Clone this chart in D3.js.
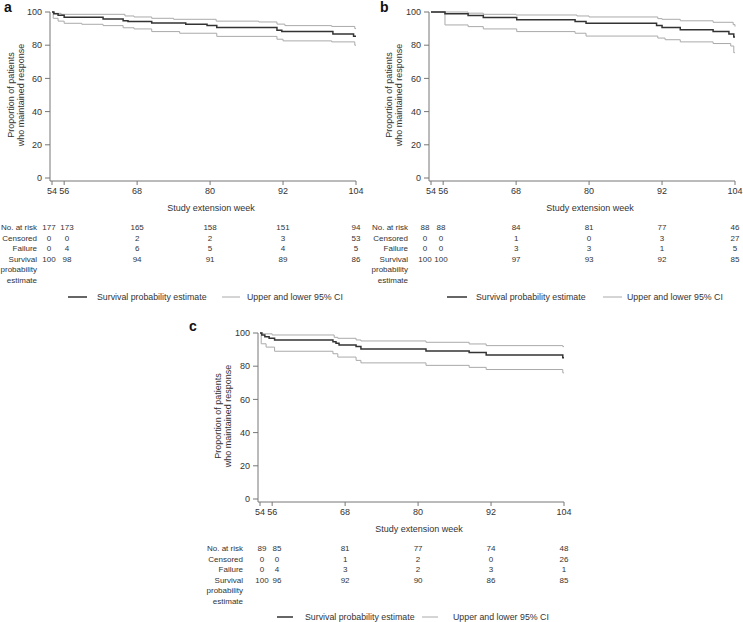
<!DOCTYPE html>
<html><head><meta charset="utf-8">
<script src="https://cdn.jsdelivr.net/npm/d3@7"></script>
<style>
html,body{margin:0;padding:0;background:#fff;}
text{font-family:"Liberation Sans",Arial,Helvetica,sans-serif;fill:#333;}
</style></head>
<body>
<svg id="chart" width="743" height="622"></svg>
<script>
// ---------- data ----------
const tableWeeks = [54, 56, 68, 80, 92, 104];
const xTickLabels = ["54", "56", "68", "80", "92", "104"];
const yTicks = [0, 20, 40, 60, 80, 100];
const rowLabels = ["No. at risk", "Censored", "Failure", "Survival", "probability", "estimate"];
const legendLabels = ["Survival probability estimate", "Upper and lower 95% CI"];
const panelLetters = ["a", "b", "c"];

// Panel a: step curves [week, %]
const aSurv = [[54,100],[54.3,99],[55,98],[56,96.8],[62.4,95.8],[65.7,94.8],[66.5,94.3],[70.4,93.3],[76,92.6],[79.5,91.8],[81.1,90.6],[91,89],[91.8,88.2],[100.2,86.8],[103.6,85.4],[104,85.4]];
const aUpper = [[54,100],[54.4,99.2],[55.5,98.6],[66,97.6],[67.5,97],[70.4,96.2],[74,95.6],[81,94.5],[88,94],[91,92.7],[92.3,91.8],[100,91.3],[103.8,90],[104,90]];
const aLower = [[54,100],[54.2,96.2],[55,94.5],[56,93.2],[58.9,92.6],[62.4,91.8],[65.7,90.5],[67.5,89.8],[70.4,88.2],[75,87.2],[81.1,85.3],[91,83.6],[92,82.6],[100,82],[103.8,80],[104,80]];
const aRisk = [177, 173, 165, 158, 151, 94];
const aCensored = [0, 0, 2, 2, 3, 53];
const aFailure = [0, 4, 6, 5, 4, 5];
const aEstimate = [100, 98, 94, 91, 89, 86];

// Panel b
const bSurv = [[54,100],[56.3,98.9],[60.1,97.9],[62.6,96.7],[68.1,95.3],[77.7,94.3],[79.5,93.2],[91.1,91.9],[92,90.7],[95,89.3],[100.4,88.2],[103,86.7],[103.8,85],[104,85]];
const bUpper = [[54,100],[60.1,99.3],[62.6,98.6],[68,98.2],[78,97.6],[80,97],[91.3,96],[92,95.6],[95,94.7],[100.4,93.8],[103.7,92.4],[104,91.2]];
const bLower = [[54,100],[56.3,92.2],[60.1,91.2],[62.6,89.8],[68.1,88.2],[77.7,87.2],[79.5,85.5],[91.3,84.3],[92.5,83.3],[95,82],[100.4,81],[103.3,79.5],[103.8,75.5],[104,75.5]];
const bRisk = [88, 88, 84, 81, 77, 46];
const bCensored = [0, 0, 1, 0, 3, 27];
const bFailure = [0, 0, 3, 3, 1, 5];
const bEstimate = [100, 100, 97, 93, 92, 85];

// Panel c
const cSurv = [[54,100],[54.3,98.8],[54.8,97.8],[55.5,96.8],[56.4,95.8],[66,94.8],[66.5,93.8],[67,92.8],[69.8,91.8],[70.6,90.4],[81.3,89.2],[88.4,88.3],[91.2,86.7],[103.8,85.1],[104,85.1]];
const cUpper = [[54,100],[54.5,99.5],[56,98.8],[66.2,97.4],[66.8,96.8],[69.8,95.8],[70.6,95.2],[81.3,94.4],[88.4,93.4],[91.2,92.4],[103.8,91.8],[104,91.8]];
const cLower = [[54,100],[54.2,93.5],[55,91.5],[56.4,89],[66,87.5],[66.8,85.5],[69.8,83.5],[70.6,82],[81.3,80.5],[88.4,79.3],[91.2,78],[103.8,76],[104,76]];
const cRisk = [89, 85, 81, 77, 74, 48];
const cCensored = [0, 0, 1, 2, 0, 26];
const cFailure = [0, 4, 3, 2, 3, 1];
const cEstimate = [100, 96, 92, 90, 86, 85];

// ---------- layout ----------
const panels = [
  {letter: panelLetters[0], surv: aSurv, upper: aUpper, lower: aLower, rows: [aRisk, aCensored, aFailure, aEstimate],
   x0: 52, x1: 356, yTop: 12, yBot: 178, axisX: 50, axisY: 181, letterX: 4, letterY: 12,
   titleX: 14, titleY: 95, labelRight: 37, col0: 49, col1: 67, tableY: 227,
   legY: 297, thick: [68, 87], thickText: 97, thin: [222, 240], thinText: 247},
  {letter: panelLetters[1], surv: bSurv, upper: bUpper, lower: bLower, rows: [bRisk, bCensored, bFailure, bEstimate],
   x0: 431, x1: 735, yTop: 12, yBot: 178, axisX: 429, axisY: 181, letterX: 380, letterY: 12,
   titleX: 392, titleY: 95, labelRight: 408, col0: 425, col1: 441, tableY: 227,
   legY: 297, thick: [447, 467], thickText: 476, thin: [603, 622], thinText: 627},
  {letter: panelLetters[2], surv: cSurv, upper: cUpper, lower: cLower, rows: [cRisk, cCensored, cFailure, cEstimate],
   x0: 260, x1: 564, yTop: 333, yBot: 499, axisX: 258, axisY: 502, letterX: 189, letterY: 331,
   titleX: 221, titleY: 416, labelRight: 243, col0: 262, col1: 277, tableY: 548,
   legY: 617, thick: [277, 293], thickText: 305, thin: [422, 438], thinText: 453}
];

const svg = d3.select("#chart");
const axisColor = "#777";

panels.forEach(p => {
  const g = svg.append("g");
  const x = d3.scaleLinear().domain([54, 104]).range([p.x0, p.x1]);
  const y = d3.scaleLinear().domain([0, 100]).range([p.yBot, p.yTop]);

  g.append("text").attr("x", p.letterX).attr("y", p.letterY)
    .style("font-size", "14px").style("font-weight", "bold").style("fill", "#111").text(p.letter);

  g.append("line").attr("x1", p.axisX).attr("x2", p.axisX).attr("y1", y(100)).attr("y2", p.axisY)
    .attr("stroke", axisColor).attr("stroke-width", 1);
  g.append("line").attr("x1", p.axisX).attr("x2", x(104)).attr("y1", p.axisY).attr("y2", p.axisY)
    .attr("stroke", axisColor).attr("stroke-width", 1);

  yTicks.forEach(t => {
    g.append("line").attr("x1", p.axisX - 5).attr("x2", p.axisX).attr("y1", y(t)).attr("y2", y(t))
      .attr("stroke", axisColor);
    g.append("text").attr("x", p.axisX - 8).attr("y", y(t) + 3.2).attr("text-anchor", "end")
      .style("font-size", "9px").text(t);
  });
  tableWeeks.forEach((w, i) => {
    g.append("line").attr("x1", x(w)).attr("x2", x(w)).attr("y1", p.axisY).attr("y2", p.axisY + 4)
      .attr("stroke", axisColor);
    g.append("text").attr("x", x(w)).attr("y", p.axisY + 13).attr("text-anchor", "middle")
      .style("font-size", "9px").text(xTickLabels[i]);
  });
  g.append("text").attr("x", (p.x0 + p.x1) / 2 + 7).attr("y", p.axisY + 29.5).attr("text-anchor", "middle")
    .style("font-size", "9px").text("Study extension week");

  const yt = g.append("text").attr("transform", `translate(${p.titleX},${p.titleY}) rotate(-90)`)
    .attr("text-anchor", "middle").style("font-size", "9px");
  yt.append("tspan").attr("x", 0).attr("dy", 0).text("Proportion of patients");
  yt.append("tspan").attr("x", 0).attr("dy", 10).text("who maintained response");

  const line = d3.line().x(d => x(d[0])).y(d => y(d[1])).curve(d3.curveStepAfter);
  [p.upper, p.lower].forEach(s => {
    g.append("path").attr("d", line(s)).attr("fill", "none").attr("stroke", "#aaa").attr("stroke-width", 1);
  });
  g.append("path").attr("d", line(p.surv)).attr("fill", "none").attr("stroke", "#333").attr("stroke-width", 1.5);

  const rowStep = 10.6;
  rowLabels.forEach((lab, r) => {
    g.append("text").attr("x", p.labelRight).attr("y", p.tableY + r * rowStep + 3)
      .attr("text-anchor", "end").style("font-size", "8px").text(lab);
  });
  p.rows.forEach((vals, r) => {
    vals.forEach((v, i) => {
      const cx = i === 0 ? p.col0 : i === 1 ? p.col1 : x(tableWeeks[i]);
      g.append("text").attr("x", cx).attr("y", p.tableY + r * rowStep + 3)
        .attr("text-anchor", "middle").style("font-size", "8px").text(v);
    });
  });

  g.append("line").attr("x1", p.thick[0]).attr("x2", p.thick[1]).attr("y1", p.legY).attr("y2", p.legY)
    .attr("stroke", "#333").attr("stroke-width", 1.5);
  g.append("text").attr("x", p.thickText).attr("y", p.legY + 3.2).style("font-size", "8.8px").text(legendLabels[0]);
  g.append("line").attr("x1", p.thin[0]).attr("x2", p.thin[1]).attr("y1", p.legY).attr("y2", p.legY)
    .attr("stroke", "#aaa").attr("stroke-width", 1);
  g.append("text").attr("x", p.thinText).attr("y", p.legY + 3.2).style("font-size", "8.8px").text(legendLabels[1]);
});
</script>
</body></html>
